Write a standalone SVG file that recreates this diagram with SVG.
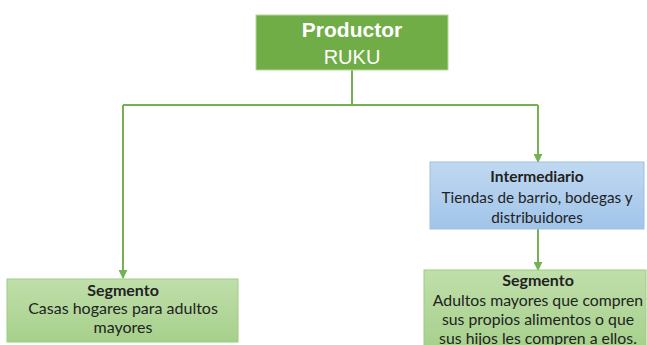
<svg xmlns="http://www.w3.org/2000/svg" width="647" height="345" viewBox="0 0 647 345">
  <defs>
    <linearGradient id="gBlue" x1="0" y1="0" x2="0" y2="1">
      <stop offset="0" stop-color="#c0d9f1"/>
      <stop offset="1" stop-color="#a0c4e9"/>
    </linearGradient>
    <linearGradient id="gGreen" x1="0" y1="0" x2="0" y2="1">
      <stop offset="0" stop-color="#c0dfab"/>
      <stop offset="1" stop-color="#a6d08b"/>
    </linearGradient>
    <marker id="arrow" viewBox="0 0 10 10" refX="9" refY="5" markerWidth="4.5" markerHeight="4.5" orient="auto" markerUnits="strokeWidth">
      <path d="M0 0 L10 5 L0 10 z" fill="#75b150"/>
    </marker>
  </defs>
  <style>
    .conn { fill: none; stroke: #75b150; stroke-width: 2; }
    .head { font-family: "Liberation Sans", Arial, sans-serif; fill: #ffffff; text-anchor: middle; }
    .lbl { font-family: Lato, "Open Sans", sans-serif; fill: #222222; text-anchor: middle; }
    .b { font-weight: bold; }
  </style>

  <rect width="647" height="345" fill="#ffffff"/>

  <g id="connectors">
    <path class="conn" d="M352 70 V105"/>
    <path class="conn" d="M123 105 H538"/>
    <path class="conn" d="M123 105 V278" marker-end="url(#arrow)"/>
    <path class="conn" d="M538 105 V162" marker-end="url(#arrow)"/>
    <path class="conn" d="M538 229 V270" marker-end="url(#arrow)"/>
  </g>

  <g id="productor">
    <rect x="256" y="15" width="192" height="55" fill="#70ad47" stroke="#b5d99c" stroke-width="1"/>
    <text class="head b" x="352" y="37" font-size="21">Productor</text>
    <text class="head" x="352" y="64" font-size="20">RUKU</text>
  </g>

  <g id="intermediario">
    <rect x="430" y="162" width="214" height="67" fill="url(#gBlue)" stroke="#9bbfe4" stroke-width="1"/>
    <text class="lbl b" x="537" y="182" font-size="15.5">Intermediario</text>
    <text class="lbl" x="537" y="203" font-size="15.3">Tiendas de barrio, bodegas y</text>
    <text class="lbl" x="537" y="223" font-size="15.3">distribuidores</text>
  </g>

  <g id="segmento-casas">
    <rect x="7" y="279" width="231" height="63" fill="url(#gGreen)" stroke="#9ccd80" stroke-width="1"/>
    <text class="lbl b" x="123" y="296" font-size="16">Segmento</text>
    <text class="lbl" x="123" y="314" font-size="16">Casas hogares para adultos</text>
    <text class="lbl" x="123" y="333" font-size="16">mayores</text>
  </g>

  <g id="segmento-adultos">
    <rect x="424" y="270" width="222" height="80" fill="url(#gGreen)" stroke="#9ccd80" stroke-width="1"/>
    <text class="lbl b" x="538" y="286" font-size="16">Segmento</text>
    <text class="lbl" x="538" y="306" font-size="15.8">Adultos mayores que compren</text>
    <text class="lbl" x="538" y="325" font-size="15.8">sus propios alimentos o que</text>
    <text class="lbl" x="538" y="344" font-size="15.8">sus hijos les compren a ellos.</text>
  </g>
</svg>
